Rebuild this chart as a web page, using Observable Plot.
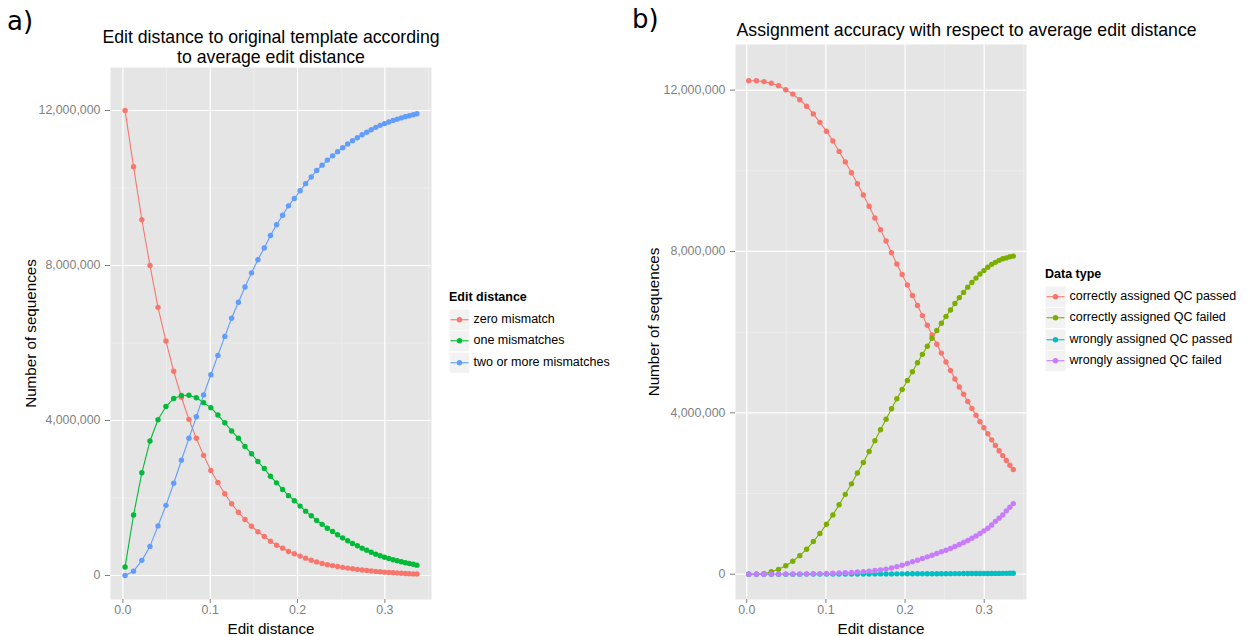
<!DOCTYPE html>
<html><head><meta charset="utf-8">
<script src="https://cdn.jsdelivr.net/npm/d3@7"></script>
<script src="https://cdn.jsdelivr.net/npm/@observablehq/plot@0.6"></script>
<style>
body{margin:0;background:#fff;font-family:"Liberation Sans",Arial,Helvetica,sans-serif;}
#wrap{position:relative;width:1248px;height:636px;overflow:hidden;background:#fff;}
.panel{position:absolute;top:0;}
.tag{position:absolute;font-family:"DejaVu Sans";font-size:26px;line-height:30px;color:#000;}
.legend{position:absolute;font-size:12.5px;color:#000;line-height:15px;}
.legend .t{font-weight:bold;height:19px;}
.legend .row{display:flex;align-items:center;height:21.5px;}
.legend svg{display:block;margin-right:3.5px;}
</style></head><body><div id="wrap"></div>
<script>
// x values: average edit distance (shared by both panels)
const editDistance = [0.0025,0.0122,0.0217,0.0310,0.0402,0.0493,0.0582,0.0670,0.0756,0.0841,0.0924,0.1007,0.1088,0.1167,0.1245,0.1323,0.1398,0.1473,0.1546,0.1619,0.1690,0.1760,0.1829,0.1896,0.1963,0.2029,0.2093,0.2157,0.2219,0.2281,0.2341,0.2401,0.2459,0.2517,0.2574,0.2630,0.2685,0.2739,0.2792,0.2844,0.2896,0.2946,0.2996,0.3045,0.3094,0.3141,0.3188,0.3234,0.3279,0.3324,0.3367];

// panel a) — values in millions of sequences
const seriesA = ["zero mismatch", "one mismatches", "two or more mismatches"];
const zeroMismatch = [12.0,10.55,9.18,8.0,6.92,6.05,5.27,4.60,4.03,3.54,3.10,2.71,2.40,2.11,1.85,1.63,1.445,1.27,1.13,1.006,0.885,0.78,0.705,0.62,0.56,0.50,0.447,0.395,0.35,0.31,0.28,0.255,0.232,0.21,0.19,0.172,0.156,0.141,0.128,0.116,0.105,0.095,0.086,0.078,0.07,0.063,0.057,0.051,0.046,0.041,0.037];
const oneMismatch = [0.22,1.56,2.65,3.47,4.02,4.36,4.57,4.645,4.65,4.585,4.46,4.33,4.14,3.94,3.73,3.54,3.33,3.14,2.94,2.76,2.56,2.39,2.22,2.06,1.93,1.79,1.66,1.54,1.42,1.32,1.22,1.135,1.05,0.97,0.895,0.826,0.766,0.705,0.653,0.60,0.55,0.508,0.472,0.44,0.405,0.38,0.354,0.328,0.31,0.29,0.266];
const twoOrMore = [0.0,0.11,0.39,0.75,1.28,1.81,2.38,2.975,3.54,4.095,4.66,5.18,5.68,6.17,6.64,7.05,7.445,7.81,8.15,8.454,8.775,9.05,9.295,9.54,9.73,9.93,10.113,10.285,10.45,10.59,10.72,10.83,10.938,11.04,11.135,11.222,11.298,11.374,11.439,11.504,11.565,11.617,11.662,11.702,11.745,11.777,11.809,11.841,11.864,11.889,11.917];

// panel b) — values in millions of sequences
const seriesB = ["correctly assigned QC passed", "correctly assigned QC failed", "wrongly assigned QC passed", "wrongly assigned QC failed"];
const correctPassed = [12.23,12.23,12.21,12.17,12.11,12.01,11.90,11.76,11.60,11.41,11.20,10.98,10.74,10.48,10.22,9.95,9.68,9.40,9.12,8.83,8.54,8.26,7.97,7.69,7.43,7.17,6.91,6.66,6.41,6.17,5.93,5.70,5.48,5.26,5.05,4.84,4.64,4.46,4.28,4.11,3.94,3.78,3.63,3.48,3.33,3.19,3.06,2.94,2.82,2.70,2.595];
const correctFailed = [0,0.002,0.01,0.06,0.12,0.21,0.32,0.46,0.62,0.81,1.01,1.24,1.47,1.72,1.98,2.24,2.51,2.77,3.04,3.31,3.58,3.84,4.10,4.35,4.58,4.80,5.02,5.24,5.45,5.65,5.85,6.04,6.22,6.39,6.55,6.71,6.855,6.985,7.115,7.23,7.34,7.44,7.525,7.61,7.68,7.73,7.78,7.82,7.84,7.87,7.885];
const wrongPassed = [0,0,0,0,0,0.001,0.001,0.001,0.002,0.002,0.002,0.003,0.003,0.004,0.004,0.005,0.005,0.006,0.006,0.007,0.007,0.008,0.008,0.009,0.009,0.010,0.010,0.011,0.011,0.012,0.012,0.013,0.013,0.014,0.014,0.015,0.015,0.016,0.016,0.017,0.017,0.018,0.018,0.019,0.019,0.020,0.020,0.021,0.021,0.022,0.022];
const wrongFailed = [0,0,0.001,0.001,0.002,0.003,0.005,0.007,0.009,0.012,0.015,0.019,0.024,0.030,0.037,0.045,0.054,0.065,0.077,0.091,0.107,0.127,0.155,0.188,0.223,0.265,0.307,0.347,0.39,0.43,0.471,0.513,0.555,0.595,0.637,0.686,0.735,0.785,0.835,0.89,0.95,1.01,1.075,1.14,1.22,1.31,1.39,1.47,1.57,1.66,1.75];

const xTicks = [0, 0.1, 0.2, 0.3];
const xMinor = [0.05, 0.15, 0.25, 0.35];
const yTicks = [0, 4e6, 8e6, 12e6];
const yMinor = [2e6, 6e6, 10e6];

const coloursA = ["#F8766D", "#00BA38", "#619CFF"];
const coloursB = ["#F8766D", "#7CAE00", "#00BFC4", "#C77CFF"];

function table(names, arrays) {
  const rows = [];
  names.forEach((name, s) => arrays[s].forEach((v, i) => rows.push({type: name, x: editDistance[i], count: v * 1e6})));
  return rows;
}
const dataA = table(seriesA, [zeroMismatch, oneMismatch, twoOrMore]);
const dataB = table(seriesB, [correctPassed, correctFailed, wrongPassed, wrongFailed]);

function panel(o) {
  return Plot.plot({
    width: o.width, height: 636,
    marginLeft: o.ml, marginRight: o.mr, marginTop: o.mt, marginBottom: 37,
    style: {fontFamily: '"Liberation Sans", Arial, sans-serif', fontSize: "12.4px", background: "transparent", overflow: "visible"},
    x: {domain: [-0.0142, 0.3534]},
    y: {domain: o.yDomain},
    color: {domain: o.names, range: o.colours},
    marks: [
      Plot.frame({fill: "#E5E5E5", stroke: null}),
      Plot.gridX(xMinor, {stroke: "#F2F2F2", strokeOpacity: 1, strokeWidth: 0.6}),
      Plot.gridY(yMinor, {stroke: "#F2F2F2", strokeOpacity: 1, strokeWidth: 0.6}),
      Plot.gridX(xTicks, {stroke: "#FFFFFF", strokeOpacity: 1, strokeWidth: 1.2}),
      Plot.gridY(yTicks, {stroke: "#FFFFFF", strokeOpacity: 1, strokeWidth: 1.2}),
      Plot.axisX({ticks: xTicks, tickFormat: d => d.toFixed(1), tickSize: 4, tickPadding: 2, color: "#7F7F7F", fontSize: 12.4, label: null}),
      Plot.axisY({ticks: yTicks, tickFormat: d3.format(","), tickSize: 5, tickPadding: 5, color: "#7F7F7F", fontSize: 12.4, label: null}),
      Plot.line(o.data, {x: "x", y: "count", stroke: "type", strokeWidth: 1.1}),
      Plot.dot(o.data, {x: "x", y: "count", fill: "type", r: 2.7}),
      Plot.text([o.title], {frameAnchor: o.titleAnchor, textAnchor: o.titleText, lineAnchor: "bottom", dx: o.titleDx, dy: o.titleDy, fontSize: 17.7, lineHeight: 1.09, fill: "#000"}),
      Plot.text(["Number of sequences"], {frameAnchor: "left", rotate: -90, lineAnchor: "bottom", textAnchor: "middle", dx: o.yLabDx, fontSize: 15.2, fill: "#000"}),
      Plot.text(["Edit distance"], {frameAnchor: "bottom", lineAnchor: "bottom", dy: 34.5, fontSize: 15.2, fill: "#000"})
    ]
  });
}

const wrap = document.getElementById("wrap");
function place(node, left) { const d = document.createElement("div"); d.className = "panel"; d.style.left = left + "px"; d.appendChild(node); wrap.appendChild(d); }

place(panel({width: 440, ml: 110, mr: 9, mt: 67, yDomain: [-0.62e6, 13.11e6], names: seriesA, colours: coloursA, data: dataA,
  title: "Edit distance to original template according\nto average edit distance", titleAnchor: "top", titleText: "middle", titleDx: 0, titleDy: -5, yLabDx: -75}), 0);
place(panel({width: 420, ml: 115, mr: 14, mt: 44, yDomain: [-0.627e6, 13.13e6], names: seriesB, colours: coloursB, data: dataB,
  title: "Assignment accuracy with respect to average edit distance", titleAnchor: "top-left", titleText: "start", titleDx: 1, titleDy: -9, yLabDx: -77}), 620);

function tag(text, left, top) { const d = document.createElement("div"); d.className = "tag"; d.textContent = text; d.style.left = left + "px"; d.style.top = top + "px"; wrap.appendChild(d); }
tag("a)", 7, 6);
tag("b)", 632, 4);

function legend(title, names, colours, left, top) {
  const d = document.createElement("div"); d.className = "legend"; d.style.left = left + "px"; d.style.top = top + "px";
  const t = document.createElement("div"); t.className = "t"; t.textContent = title; d.appendChild(t);
  names.forEach((n, i) => {
    const r = document.createElement("div"); r.className = "row";
    const ns = "http://www.w3.org/2000/svg";
    const s = document.createElementNS(ns, "svg"); s.setAttribute("width", 21); s.setAttribute("height", 21.5);
    const bg = document.createElementNS(ns, "rect"); bg.setAttribute("x", 0.25); bg.setAttribute("y", 0.25); bg.setAttribute("width", 20.5); bg.setAttribute("height", 21); bg.setAttribute("fill", "#F2F2F2"); bg.setAttribute("stroke", "#fff"); bg.setAttribute("stroke-width", 0.5); s.appendChild(bg);
    const l = document.createElementNS(ns, "line"); l.setAttribute("x1", 1.5); l.setAttribute("x2", 19.5); l.setAttribute("y1", 10.75); l.setAttribute("y2", 10.75); l.setAttribute("stroke", colours[i]); l.setAttribute("stroke-width", 1.1); s.appendChild(l);
    const c = document.createElementNS(ns, "circle"); c.setAttribute("cx", 10.5); c.setAttribute("cy", 10.75); c.setAttribute("r", 2.7); c.setAttribute("fill", colours[i]); s.appendChild(c);
    r.appendChild(s);
    const lab = document.createElement("span"); lab.textContent = n; r.appendChild(lab);
    d.appendChild(r);
  });
  wrap.appendChild(d);
}
legend("Edit distance", seriesA, coloursA, 449, 289.5);
legend("Data type", seriesB, coloursB, 1045, 266.7);
</script>
</body></html>
